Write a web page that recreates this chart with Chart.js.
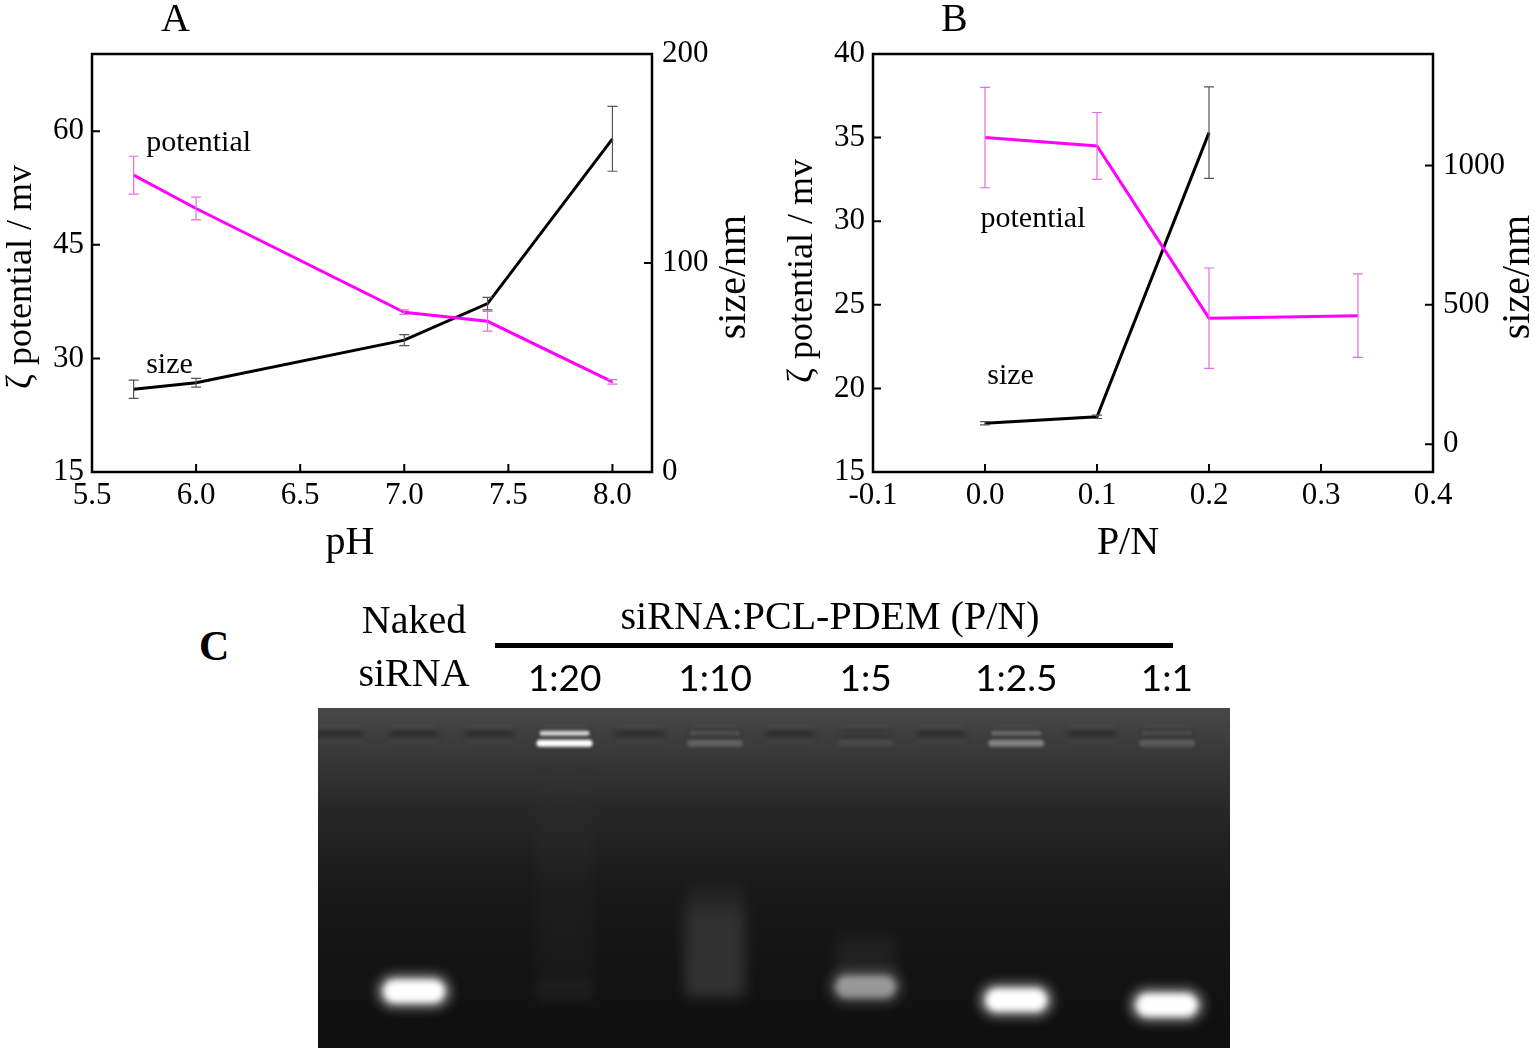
<!DOCTYPE html>
<html>
<head>
<meta charset="utf-8">
<title>Zeta potential, size and gel retardation</title>
<script src="https://cdn.jsdelivr.net/npm/chart.js@4.4.1/dist/chart.umd.min.js"></script>
<style>
    html, body { margin: 0; padding: 0; background: #fff; }
    body {
        position: relative;
        width: 1535px;
        height: 1049px;
        overflow: hidden;
        font-family: "Liberation Serif", "Times New Roman", serif;
        color: #000;
    }
    .panel { position: absolute; }
    .tag { position: absolute; font-size: 40px; line-height: 1; white-space: nowrap; }
    .rule { position: absolute; background: #000; }
</style>
</head>
<body>
<div class="panel" style="left:0;top:0;width:760px;height:570px"><canvas id="chartA"></canvas></div>
<div class="panel" style="left:770px;top:0;width:765px;height:570px"><canvas id="chartB"></canvas></div>
<div class="panel" style="left:318px;top:590px;width:912px;height:458px"><canvas id="chartC"></canvas></div>

<div class="tag" style="left:161px;top:-2px">A</div>
<div class="tag" style="left:941px;top:-2px">B</div>
<div class="tag" style="left:199px;top:625px;font-size:42px;font-weight:bold">C</div>
<div class="tag" style="left:530px;top:596px;width:600px;text-align:center">siRNA:PCL-PDEM (P/N)</div>
<div class="rule" style="left:495px;top:643px;width:678px;height:5px"></div>

<script>
// ---- panel A : pH ----
const phValues = [5.7, 6.0, 7.0, 7.4, 8.0];
const potentialA = [54.2, 49.8, 36.1, 34.9, 26.9];
const potentialAErr = [2.5, 1.5, 0.3, 1.3, 0.3];
const sizeA = [39.6, 42.7, 63.1, 80.6, 159.4];
const sizeAErr = [4.4, 2.1, 2.6, 3.0, 15.5];

const ticksAX = [5.5, 6.0, 6.5, 7.0, 7.5, 8.0];
const ticksALeft = [15, 30, 45, 60];
const ticksARight = [0, 100, 200];

// ---- panel B : P/N ----
const pnPotential = [0.0, 0.1, 0.2, 0.333];
const potentialB = [35.0, 34.5, 24.2, 24.35];
const potentialBErr = [3.0, 2.0, 3.0, 2.5];
const pnSize = [0.0, 0.1, 0.2];
const sizeB = [75, 98, 1118];
const sizeBErr = [6, 6, 164];

const ticksBX = [-0.1, 0.0, 0.1, 0.2, 0.3, 0.4];
const ticksBLeft = [15, 20, 25, 30, 35, 40];
const ticksBRight = [0, 500, 1000];

// ---- panel C : gel ----
const laneLabels = [["Naked", "siRNA"], "1:20", "1:10", "1:5", "1:2.5", "1:1"];
const laneWells = [1, 3, 5, 7, 9, 11];
const allWells = [0, 1, 2, 3, 4, 5, 6, 7, 8, 9, 10, 11];
const freeBand = [1.0, 1.0, null, 0.983, 1.034, 1.053];
const freeBandLevel = [1.0, 0.025, 0, 0.42, 1.0, 1.0];
const wellBand = [0.017, 0.017, 0.017, 0.017, 0.017, 0.017];
const wellBandLevel = [0, 1.0, 0.18, 0.06, 0.35, 0.15];
const smearTop = [null, 0.1, 0.556, 0.75, null, null];
const smearBottom = [null, 1.0, 1.02, 0.98, null, null];
const smearLevel = [0, 0.025, 0.14, 0.07, 0, 0];

const MAGENTA = "#ff00ff";
const SERIF = "Liberation Serif";

Chart.defaults.font.family = SERIF;
Chart.defaults.color = "#000";

function points(xs, ys) {
    return xs.map(function (x, i) {
        return { x: x, y: ys[i] };
    });
}

function fixedTicks(list) {
    return function (scale) {
        scale.ticks = list.map(function (v) {
            return { value: v };
        });
    };
}

function fixWidth(w) {
    return function (scale) {
        scale.width = w;
    };
}

function fixHeight(h) {
    return function (scale) {
        scale.height = h;
    };
}

function plain(v) {
    return String(v);
}

// error bars, from dataset.errors
const errorBars = {
    id: "errorBars",
    afterDatasetsDraw(chart) {
        const ctx = chart.ctx;
        chart.data.datasets.forEach(function (ds, i) {
            if (!ds.errors) return;
            const meta = chart.getDatasetMeta(i);
            const yScale = chart.scales[ds.yAxisID];
            ctx.save();
            ctx.strokeStyle = ds.errorColor;
            ctx.lineWidth = 1.2;
            meta.data.forEach(function (pt, j) {
                const v = ds.data[j].y;
                const e = ds.errors[j];
                const top = yScale.getPixelForValue(v + e);
                const bot = yScale.getPixelForValue(v - e);
                ctx.beginPath();
                ctx.moveTo(pt.x, top);
                ctx.lineTo(pt.x, bot);
                ctx.moveTo(pt.x - 5, top);
                ctx.lineTo(pt.x + 5, top);
                ctx.moveTo(pt.x - 5, bot);
                ctx.lineTo(pt.x + 5, bot);
                ctx.stroke();
            });
            ctx.restore();
        });
    },
};

// closed frame with inward ticks
const frame = {
    id: "frame",
    afterDraw(chart) {
        const ctx = chart.ctx;
        const a = chart.chartArea;
        ctx.save();
        ctx.strokeStyle = "#000";
        ctx.lineWidth = 2.5;
        ctx.strokeRect(a.left, a.top, a.right - a.left, a.bottom - a.top);
        ctx.lineWidth = 2;
        ctx.beginPath();
        chart.scales.x.ticks.forEach(function (t) {
            const px = chart.scales.x.getPixelForValue(t.value);
            ctx.moveTo(px, a.bottom);
            ctx.lineTo(px, a.bottom - 8);
        });
        chart.scales.yL.ticks.forEach(function (t) {
            const py = chart.scales.yL.getPixelForValue(t.value);
            ctx.moveTo(a.left, py);
            ctx.lineTo(a.left + 8, py);
        });
        chart.scales.yR.ticks.forEach(function (t) {
            const py = chart.scales.yR.getPixelForValue(t.value);
            ctx.moveTo(a.right, py);
            ctx.lineTo(a.right - 8, py);
        });
        ctx.stroke();
        ctx.restore();
    },
};

// axis titles and the two curve names
const captions = {
    id: "captions",
    afterDraw(chart, args, opts) {
        const ctx = chart.ctx;
        const a = chart.chartArea;
        const midX = (a.left + a.right) / 2;
        const midY = (a.top + a.bottom) / 2;
        ctx.save();
        ctx.fillStyle = "#000";
        ctx.textAlign = "center";
        ctx.textBaseline = "middle";

        ctx.font = "40px " + SERIF;
        ctx.fillText(opts.bottom, midX + opts.bottomShift, a.bottom + 71);

        ctx.save();
        ctx.font = "36px " + SERIF;
        ctx.translate(a.left - 70, midY + opts.sideShift);
        ctx.rotate(-Math.PI / 2);
        ctx.fillText(opts.left, 0, 0);
        ctx.restore();

        ctx.save();
        ctx.font = "40px " + SERIF;
        ctx.translate(a.right + opts.rightGap, midY + 14);
        ctx.rotate(-Math.PI / 2);
        ctx.fillText(opts.right, 0, 0);
        ctx.restore();

        ctx.font = "30px " + SERIF;
        ctx.textAlign = "left";
        opts.notes.forEach(function (n) {
            ctx.fillText(
                n.text,
                chart.scales.x.getPixelForValue(n.x),
                chart.scales.yL.getPixelForValue(n.y)
            );
        });
        ctx.restore();
    },
};

function lineChart(id, cfg) {
    const tickFont = { family: SERIF, size: 31 };
    return new Chart(id, {
        type: "line",
        data: {
            datasets: [
                {
                    label: "potential",
                    data: cfg.potential,
                    errors: cfg.potentialErr,
                    errorColor: "#e66be6",
                    yAxisID: "yL",
                    borderColor: MAGENTA,
                    borderWidth: 3,
                    pointRadius: 0,
                    tension: 0,
                },
                {
                    label: "size",
                    data: cfg.size,
                    errors: cfg.sizeErr,
                    errorColor: "#555",
                    yAxisID: "yR",
                    borderColor: "#000",
                    borderWidth: 3,
                    pointRadius: 0,
                    tension: 0,
                },
            ],
        },
        options: {
            responsive: true,
            maintainAspectRatio: false,
            animation: false,
            layout: { padding: { top: 54, left: 0, right: 0, bottom: 0 } },
            plugins: {
                legend: { display: false },
                tooltip: { enabled: false },
                captions: cfg.captions,
            },
            scales: {
                x: {
                    type: "linear",
                    min: cfg.xMin,
                    max: cfg.xMax,
                    grid: { display: false, drawTicks: false },
                    border: { display: false },
                    afterBuildTicks: fixedTicks(cfg.xTicks),
                    afterFit: fixHeight(98),
                    ticks: {
                        font: tickFont,
                        padding: 5,
                        maxRotation: 0,
                        callback: function (v) {
                            return v.toFixed(1);
                        },
                    },
                },
                yL: {
                    type: "linear",
                    position: "left",
                    min: cfg.yLMin,
                    max: cfg.yLMax,
                    grid: { display: false, drawTicks: false },
                    border: { display: false },
                    afterBuildTicks: fixedTicks(cfg.yLTicks),
                    afterFit: fixWidth(cfg.leftWidth),
                    ticks: { font: tickFont, padding: 8, callback: plain },
                },
                yR: {
                    type: "linear",
                    position: "right",
                    min: cfg.yRMin,
                    max: cfg.yRMax,
                    grid: { display: false, drawTicks: false },
                    border: { display: false },
                    afterBuildTicks: fixedTicks(cfg.yRTicks),
                    afterFit: fixWidth(cfg.rightWidth),
                    ticks: { font: tickFont, padding: 10, callback: plain },
                },
            },
        },
        plugins: [errorBars, frame, captions],
    });
}

lineChart("chartA", {
    potential: points(phValues, potentialA),
    potentialErr: potentialAErr,
    size: points(phValues, sizeA),
    sizeErr: sizeAErr,
    xMin: 5.5, xMax: 8.19, xTicks: ticksAX,
    yLMin: 15, yLMax: 70.2, yLTicks: ticksALeft,
    yRMin: 0, yRMax: 200, yRTicks: ticksARight,
    leftWidth: 92, rightWidth: 108,
    captions: {
        bottom: "pH", bottomShift: -22,
        left: "\u03B6 potential / mv", sideShift: 14,
        right: "size/nm", rightGap: 82,
        notes: [
            { text: "potential", x: 5.76, y: 58.4 },
            { text: "size", x: 5.76, y: 29.1 },
        ],
    },
});

lineChart("chartB", {
    potential: points(pnPotential, potentialB),
    potentialErr: potentialBErr,
    size: points(pnSize, sizeB),
    sizeErr: sizeBErr,
    xMin: -0.1, xMax: 0.4, xTicks: ticksBX,
    yLMin: 15, yLMax: 40, yLTicks: ticksBLeft,
    yRMin: -100, yRMax: 1400, yRTicks: ticksBRight,
    leftWidth: 103, rightWidth: 102,
    captions: {
        bottom: "P/N", bottomShift: -25,
        left: "\u03B6 potential / mv", sideShift: 8,
        right: "size/nm", rightGap: 85,
        notes: [
            { text: "potential", x: -0.004, y: 30.1 },
            { text: "size", x: 0.002, y: 20.75 },
        ],
    },
});

// ---- gel ----
function pill(ctx, x, y, w, h, color, blur) {
    ctx.save();
    ctx.filter = "blur(" + blur + "px)";
    ctx.fillStyle = color;
    ctx.beginPath();
    ctx.roundRect(x - w / 2, y - h / 2, w, h, h / 2);
    ctx.fill();
    ctx.restore();
}

const gel = {
    id: "gel",
    beforeDatasetsDraw(chart) {
        const ctx = chart.ctx;
        const a = chart.chartArea;
        const g = ctx.createLinearGradient(0, a.top, 0, a.bottom);
        g.addColorStop(0, "#484848");
        g.addColorStop(0.12, "#3a3a3a");
        g.addColorStop(0.3, "#272727");
        g.addColorStop(0.55, "#181818");
        g.addColorStop(1, "#0f0f0f");
        ctx.save();
        ctx.fillStyle = g;
        ctx.fillRect(a.left, a.top, a.right - a.left, a.bottom - a.top);
        ctx.restore();
    },
    afterDatasetsDraw(chart) {
        const ctx = chart.ctx;
        const a = chart.chartArea;
        const yScale = chart.scales.y;
        ctx.save();
        ctx.beginPath();
        ctx.rect(a.left, a.top, a.right - a.left, a.bottom - a.top);
        ctx.clip();
        chart.data.datasets.forEach(function (ds, i) {
            const meta = chart.getDatasetMeta(i);
            meta.data.forEach(function (pt, j) {
                const lvl = ds.levels ? ds.levels[j] : 1;
                if (ds.kind === "well") {
                    pill(ctx, pt.x, pt.y, 50, 8, "rgba(0,0,0,0.28)", 3);
                    pill(ctx, pt.x, pt.y - 7, 48, 3, "rgba(140,140,140,0.14)", 2);
                    pill(ctx, pt.x, pt.y + 7, 48, 3, "rgba(140,140,140,0.14)", 2);
                } else if (ds.kind === "retained") {
                    if (!lvl) return;
                    pill(ctx, pt.x, pt.y - 5, 50, 5, "rgba(255,255,255," + lvl * 0.8 + ")", 1.5);
                    pill(ctx, pt.x, pt.y + 5, 56, 7, "rgba(255,255,255," + lvl + ")", 1.5);
                } else if (ds.kind === "smear") {
                    if (!lvl) return;
                    const bottom = yScale.getPixelForValue(ds.ends[j]);
                    const g = ctx.createLinearGradient(0, pt.y, 0, bottom);
                    g.addColorStop(0, "rgba(255,255,255,0)");
                    g.addColorStop(0.35, "rgba(255,255,255," + lvl * 0.8 + ")");
                    g.addColorStop(1, "rgba(255,255,255," + lvl + ")");
                    ctx.save();
                    ctx.filter = "blur(7px)";
                    ctx.fillStyle = g;
                    ctx.fillRect(pt.x - 30, pt.y, 60, bottom - pt.y);
                    ctx.restore();
                } else if (ds.kind === "band") {
                    if (!lvl) return;
                    pill(ctx, pt.x, pt.y, 72, 32, "rgba(255,255,255," + lvl * 0.55 + ")", 6);
                    pill(ctx, pt.x, pt.y, 60, 22, "rgba(255,255,255," + lvl + ")", 3);
                }
            });
        });
        ctx.restore();
    },
};

function lanePoints(ys) {
    const out = [];
    laneWells.forEach(function (w, i) {
        if (ys[i] !== null) out.push({ x: w, y: ys[i] });
    });
    return out;
}

function laneValues(ys, vals) {
    const out = [];
    ys.forEach(function (y, i) {
        if (y !== null) out.push(vals[i]);
    });
    return out;
}

new Chart("chartC", {
    type: "scatter",
    data: {
        datasets: [
            {
                kind: "well",
                data: allWells.map(function (w) {
                    return { x: w, y: 0 };
                }),
                pointRadius: 0,
            },
            {
                kind: "smear",
                data: lanePoints(smearTop),
                ends: laneValues(smearTop, smearBottom),
                levels: laneValues(smearTop, smearLevel),
                pointRadius: 0,
            },
            {
                kind: "retained",
                data: lanePoints(wellBand),
                levels: laneValues(wellBand, wellBandLevel),
                pointRadius: 0,
            },
            {
                kind: "band",
                data: lanePoints(freeBand),
                levels: laneValues(freeBand, freeBandLevel),
                pointRadius: 0,
            },
        ],
    },
    options: {
        responsive: true,
        maintainAspectRatio: false,
        animation: false,
        layout: { padding: 0 },
        plugins: {
            legend: { display: false },
            tooltip: { enabled: false },
        },
        scales: {
            x: {
                type: "linear",
                position: "top",
                min: -0.275,
                max: 11.84,
                grid: { display: false, drawTicks: false },
                border: { display: false },
                afterBuildTicks: fixedTicks(laneWells),
                afterFit: fixHeight(118),
                ticks: {
                    autoSkip: false,
                    maxRotation: 0,
                    minRotation: 0,
                    padding: 6,
                    color: "#000",
                    font: function (c) {
                        return c.index === 0
                            ? { family: SERIF, size: 40, lineHeight: 1.325 }
                            : { family: "Lato", size: 37, lineHeight: 1.22 };
                    },
                    callback: function (v, i) {
                        return laneLabels[i];
                    },
                },
            },
            y: {
                type: "linear",
                display: false,
                reverse: true,
                min: -0.1,
                max: 1.22,
            },
        },
    },
    plugins: [gel],
});
</script>
</body>
</html>
